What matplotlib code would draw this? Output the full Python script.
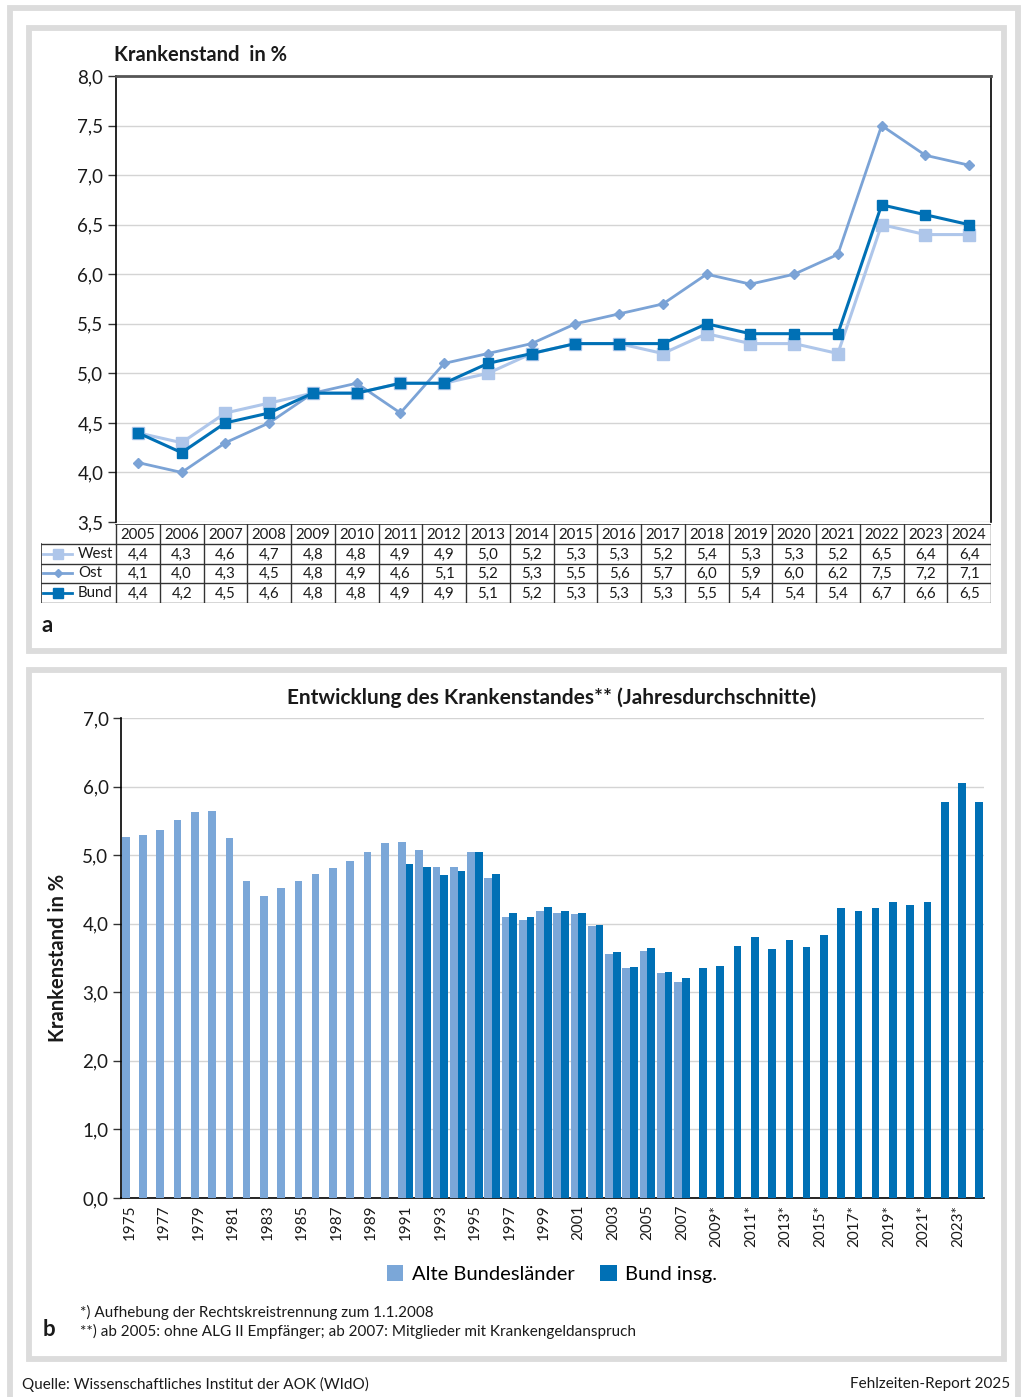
import matplotlib
matplotlib.use("Agg")
import matplotlib.pyplot as plt
import numpy as np
from matplotlib.patches import Rectangle

plt.rcParams["font.family"] = ["Lato", "DejaVu Sans"]

# --- Daten Teil a: Krankenstand West / Ost / Bund ---
years_a = list(range(2005, 2025))
west = [4.4, 4.3, 4.6, 4.7, 4.8, 4.8, 4.9, 4.9, 5.0, 5.2, 5.3, 5.3, 5.2, 5.4, 5.3, 5.3, 5.2, 6.5, 6.4, 6.4]
ost = [4.1, 4.0, 4.3, 4.5, 4.8, 4.9, 4.6, 5.1, 5.2, 5.3, 5.5, 5.6, 5.7, 6.0, 5.9, 6.0, 6.2, 7.5, 7.2, 7.1]
bund = [4.4, 4.2, 4.5, 4.6, 4.8, 4.8, 4.9, 4.9, 5.1, 5.2, 5.3, 5.3, 5.3, 5.5, 5.4, 5.4, 5.4, 6.7, 6.6, 6.5]
series_names = ["West", "Ost", "Bund"]

# --- Daten Teil b: Jahresdurchschnitte (geschätzt) ---
years_alte = list(range(1975, 2008))
alte = [5.27, 5.30, 5.36, 5.51, 5.63, 5.64, 5.25, 4.63, 4.41, 4.52, 4.63, 4.72, 4.81, 4.92, 5.04, 5.17,
        5.19, 5.07, 4.83, 4.83, 5.04, 4.66, 4.10, 4.05, 4.18, 4.15, 4.14, 3.96, 3.56, 3.35, 3.60, 3.28, 3.15]
years_bund = list(range(1991, 2025))
bund_insg = [4.87, 4.83, 4.71, 4.77, 5.04, 4.72, 4.15, 4.10, 4.24, 4.18, 4.15, 3.98, 3.59, 3.37, 3.64, 3.29, 3.21,
             3.35, 3.38, 3.67, 3.80, 3.63, 3.76, 3.66, 3.83, 4.23, 4.18, 4.23, 4.32, 4.28, 4.32, 5.77, 6.05, 5.77]
tick_years = list(range(1975, 2025, 2))
tick_labels = [f"{y}*" if y >= 2009 else str(y) for y in tick_years]

C_WEST = "#aec6ea"
C_OST = "#7ba3d6"
C_BUND = "#0070b5"
C_ALTE = "#7ba7d8"
C_GRID = "#d4d4d4"
C_FRAME = "#dcdcdc"
TXT = "#1a1a1a"

W, H = 1022, 1397
fig = plt.figure(figsize=(W / 100, H / 100), dpi=100)


def rect(l, t, r, b):
    return [l / W, 1 - b / H, (r - l) / W, (b - t) / H]


def fx(x):
    return x / W


def fy(y):
    return 1 - y / H


# Rahmen
fig.patches.append(Rectangle((fx(9.5), fy(1400)), fx(1008), fy(8) - fy(1400), transform=fig.transFigure,
                             fill=False, ec=C_FRAME, lw=4.2))
for (l, t, r, b) in [(28.5, 27.5, 1003.5, 650.5), (28.5, 670.5, 1003.5, 1359)]:
    fig.patches.append(Rectangle((fx(l), fy(b)), fx(r - l), fy(t) - fy(b), transform=fig.transFigure,
                                 fill=False, ec=C_FRAME, lw=4.2))

# ---------------- Teil a ----------------
ax = fig.add_axes(rect(116, 76, 991, 522))
x = np.arange(len(years_a))
ax.plot(x, west, color=C_WEST, lw=2.2, marker="s", ms=8, zorder=3)
ax.plot(x, ost, color=C_OST, lw=2.0, marker="D", ms=5.5, zorder=4)
ax.plot(x, bund, color=C_BUND, lw=2.2, marker="s", ms=7, zorder=5)
ax.set_xlim(-0.5, len(years_a) - 0.5)
ax.set_ylim(3.5, 8.0)
yt = np.arange(3.5, 8.01, 0.5)
ax.set_yticks(yt)
ax.set_yticklabels([f"{v:.1f}".replace(".", ",") for v in yt], fontsize=13.5, color=TXT)
ax.set_xticks([])
ax.tick_params(axis="y", length=6, width=1, color="#333333", pad=3)
ax.grid(axis="y", color=C_GRID, lw=1)
ax.set_axisbelow(True)
for s in ["left", "right"]:
    ax.spines[s].set_color("black")
    ax.spines[s].set_linewidth(1.2)
ax.spines["top"].set_color("#555555")
ax.spines["top"].set_linewidth(2)
ax.spines["bottom"].set_visible(False)
fig.text(fx(114), fy(55), "Krankenstand  in %", fontsize=14.5, fontweight="bold", color=TXT,
         ha="left", va="center")

# Tabelle
tab = fig.add_axes(rect(41, 524, 991, 603))
unit = (991 - 116) / len(years_a)
x0 = -0.5 - (116 - 41) / unit
tab.set_xlim(x0, len(years_a) - 0.5)
tab.set_ylim(4, 0)
tab.axis("off")
lc = "#333333"
for k in range(len(years_a) + 1):
    tab.plot([k - 0.5, k - 0.5], [0, 4], color=lc, lw=1)
tab.plot([x0, x0], [1, 4], color=lc, lw=1.2)
tab.plot([-0.5, len(years_a) - 0.5], [0, 0], color=lc, lw=1.2)
for r in range(1, 5):
    tab.plot([x0, len(years_a) - 0.5], [r, r], color=lc, lw=1)
for i, yv in enumerate(years_a):
    tab.text(i, 0.55, str(yv), ha="center", va="center", fontsize=10.8, color=TXT)
vals = [west, ost, bund]
styles = [(C_WEST, "s", 6.5), (C_OST, "D", 4.5), (C_BUND, "s", 6.5)]
for r, (name, row, (c, m, ms)) in enumerate(zip(series_names, vals, styles), start=1):
    for i, v in enumerate(row):
        tab.text(i, r + 0.55, f"{v:.1f}".replace(".", ","), ha="center", va="center", fontsize=10.8, color=TXT)
    lx0 = x0 + 2 / unit
    lx1 = x0 + 31 / unit
    tab.plot([lx0, lx1], [r + 0.5, r + 0.5], color=c, lw=2)
    tab.plot([(lx0 + lx1) / 2], [r + 0.5], color=c, marker=m, ms=ms)
    tab.text(x0 + 37 / unit, r + 0.5, name, ha="left", va="center", fontsize=10.8, color=TXT)

fig.text(fx(42), fy(626), "a", fontsize=16, fontweight="bold", color=TXT, ha="left", va="center")

# ---------------- Teil b ----------------
bx = fig.add_axes(rect(121, 718, 984, 1198))
bw = 0.445
bx.bar(years_alte, alte, width=-bw, align="edge", color=C_ALTE, label="Alte Bundesländer", zorder=3)
bx.bar(years_bund, bund_insg, width=bw, align="edge", color=C_BUND, label="Bund insg.", zorder=3)
bx.set_xlim(1974.5, 2024.5)
bx.set_ylim(0, 7)
bx.set_yticks(range(8))
bx.set_yticklabels([f"{v:.1f}".replace(".", ",") for v in range(8)], fontsize=13.5, color=TXT)
bx.set_xticks(tick_years)
bx.set_xticklabels(tick_labels, rotation=90, fontsize=11, color=TXT)
bx.tick_params(axis="x", length=0, pad=5)
bx.tick_params(axis="y", length=6, width=1, color="#333333", pad=3)
bx.grid(axis="y", color=C_GRID, lw=1)
bx.set_axisbelow(True)
bx.spines["top"].set_visible(False)
bx.spines["right"].set_visible(False)
bx.spines["left"].set_linewidth(1.2)
bx.spines["bottom"].set_linewidth(1.2)
bx.set_ylabel("Krankenstand in %", fontsize=14.5, fontweight="bold", color=TXT, labelpad=10)
fig.text(fx(552), fy(698), "Entwicklung des Krankenstandes** (Jahresdurchschnitte)", fontsize=15,
         fontweight="bold", color=TXT, ha="center", va="center")
fig.legend(loc="center", bbox_to_anchor=(fx(552), fy(1274)), ncol=2, frameon=False, fontsize=14.5,
           handlelength=0.8, handleheight=0.8, handletextpad=0.4, columnspacing=1.3)

fig.text(fx(80), fy(1312), "*) Aufhebung der Rechtskreistrennung zum 1.1.2008", fontsize=11, color=TXT,
         ha="left", va="center")
fig.text(fx(80), fy(1331), "**) ab 2005: ohne ALG II Empfänger; ab 2007: Mitglieder mit Krankengeldanspruch",
         fontsize=11, color=TXT, ha="left", va="center")
fig.text(fx(43), fy(1330), "b", fontsize=16, fontweight="bold", color=TXT, ha="left", va="center")
fig.text(fx(22), fy(1384), "Quelle: Wissenschaftliches Institut der AOK (WIdO)", fontsize=11, color=TXT,
         ha="left", va="center")
fig.text(fx(1010), fy(1384), "Fehlzeiten-Report 2025", fontsize=11, color=TXT, ha="right", va="center")

fig.savefig("out.png", dpi=100)
